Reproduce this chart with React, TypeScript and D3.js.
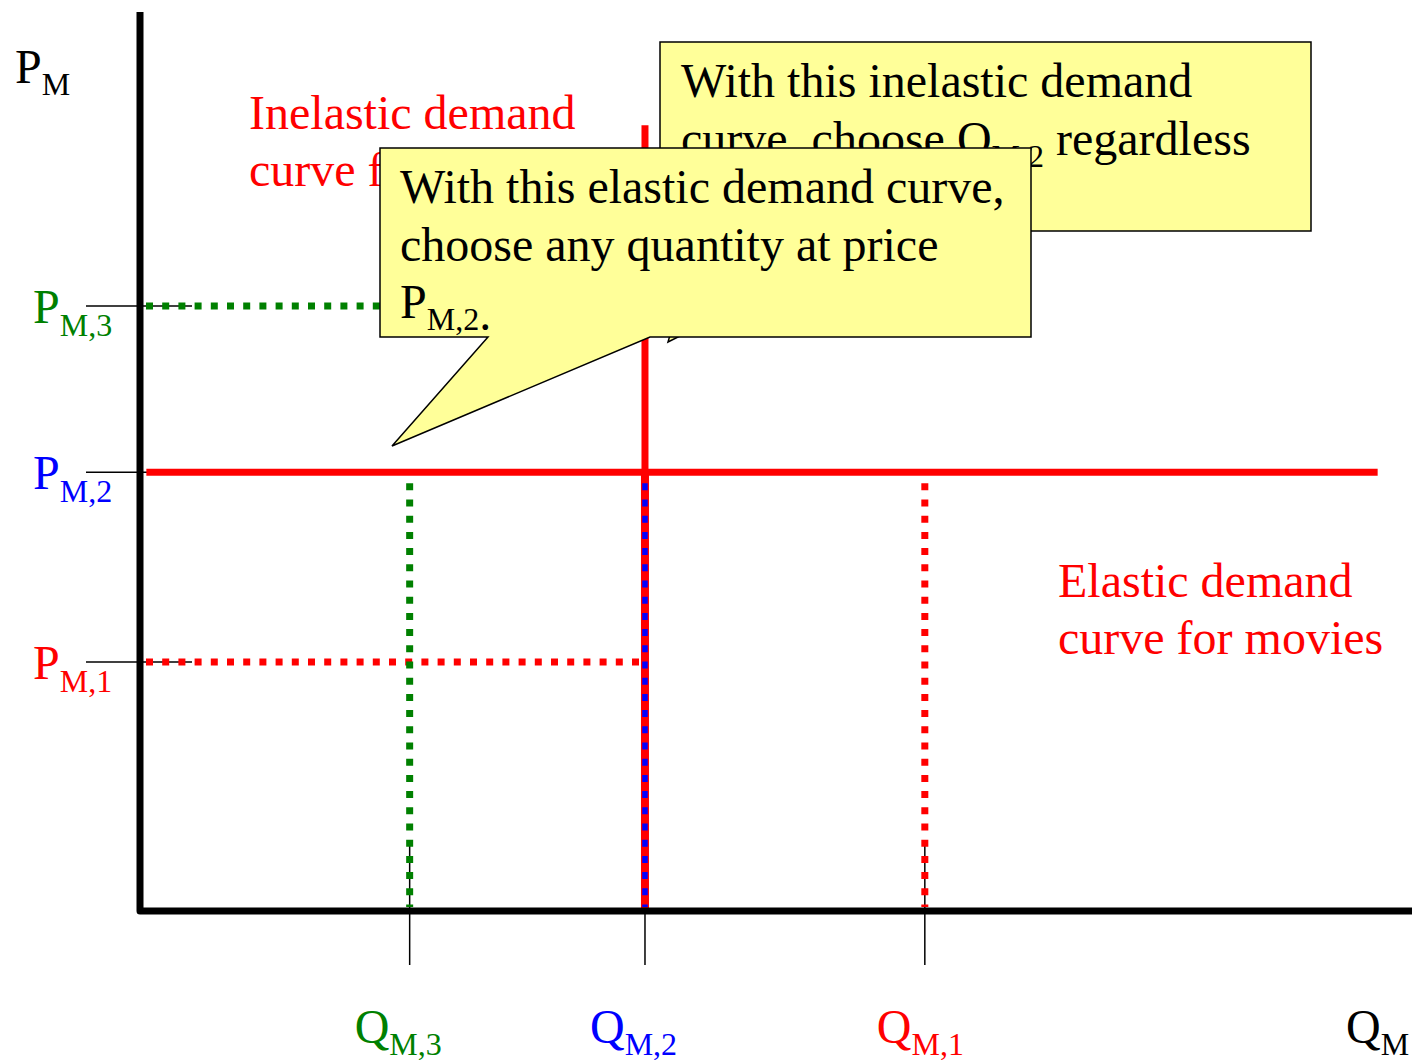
import React from "react";
import * as d3 from "d3";

// ---- data (axis units 0..100) ----
const quantityNames = ["M,3", "M,2", "M,1"];
const quantityValues = [21.2, 39.7, 61.7];
const priceNames = ["M,3", "M,2", "M,1"];
const priceValues = [67.3, 48.8, 27.7];
const elasticDemand: [number, number][] = [
  [0.5, 48.8],
  [97.3, 48.8],
];
const inelasticDemand: [number, number][] = [
  [39.7, 48.8],
  [39.7, 87.4],
];
const axisNames = ["P", "M", "Q", "M"];
const inelasticLabel = ["Inelastic demand", "curve for movies"];
const elasticLabel = ["Elastic demand", "curve for movies"];
const backCallout = ["With this inelastic demand", "curve, choose Q", "M,2", " regardless", "of price."];
const frontCallout = ["With this elastic demand curve,", "choose any quantity at price", "P", "M,2", "."];

// ---- styles ----
const levelColors = ["#008000", "#0000ff", "#ff0000"];
const qLabelShift = [-55, -55, -48];
const RED = "#ff0000";
const BLUE = "#0000ff";
const GREEN = "#008000";
const YELLOW = "#ffff99";
const FONT = "'Liberation Serif', 'Times New Roman', serif";
const W = 1412;
const H = 1060;

export default function App() {
  const x = d3.scaleLinear().domain([0, 100]).range([140, 1412]);
  const y = d3.scaleLinear().domain([0, 100]).range([911, 12]);
  const line = d3
    .line<[number, number]>()
    .x((d) => x(d[0]))
    .y((d) => y(d[1]));

  const [q3, q2, q1] = quantityValues;
  const [p3, p2, p1] = priceValues;
  const dash = "7 9.2";

  const sub = (t: string, dy: number) => (
    <tspan fontSize={32} dy={dy}>
      {t}
    </tspan>
  );

  return (
    <svg
      width={W}
      height={H}
      style={{ position: "absolute", left: 0, top: 0, background: "#fff" }}
      fontFamily={FONT}
    >
      {/* ticks */}
      {priceValues.map((p, i) => (
        <line key={"pt" + i} x1={86} x2={192} y1={y(p)} y2={y(p)} stroke="#000" strokeWidth={1.5} />
      ))}
      {quantityValues.map((q, i) => (
        <line key={"qt" + i} x1={x(q)} x2={x(q)} y1={845} y2={965} stroke="#000" strokeWidth={1.5} />
      ))}

      {/* dotted guides */}
      <line x1={x(0) + 6} x2={x(q2)} y1={y(p3)} y2={y(p3)} stroke={GREEN} strokeWidth={7} strokeDasharray={dash} />
      <line x1={x(0) + 6} x2={x(q2) - 5} y1={y(p1)} y2={y(p1)} stroke={RED} strokeWidth={7} strokeDasharray={dash} />
      <line x1={x(q3)} x2={x(q3)} y1={y(p2) + 11} y2={y(0) - 4} stroke={GREEN} strokeWidth={7} strokeDasharray={dash} />
      <line x1={x(q1)} x2={x(q1)} y1={y(p2) + 11} y2={y(0) - 4} stroke={RED} strokeWidth={7} strokeDasharray={dash} />
      <line x1={x(q2)} x2={x(q2)} y1={y(p2)} y2={y(0)} stroke={RED} strokeWidth={8} />
      <line x1={x(q2)} x2={x(q2)} y1={y(p2) + 11} y2={y(0) - 4} stroke={BLUE} strokeWidth={5.5} strokeDasharray={dash} />

      {/* demand curves */}
      <path d={line(elasticDemand) || ""} stroke={RED} strokeWidth={7} fill="none" />
      <path d={line(inelasticDemand) || ""} stroke={RED} strokeWidth={7} fill="none" />

      {/* axes */}
      <path
        d={`M${x(0)},${y(100)} L${x(0)},${y(0)} L${x(100)},${y(0)}`}
        stroke="#000"
        strokeWidth={7}
        fill="none"
        strokeLinejoin="round"
      />

      {/* axis titles */}
      <text x={15} y={83} fontSize={48} fill="#000">
        {axisNames[0]}
        {sub(axisNames[1], 12)}
      </text>
      <text x={1346} y={1043} fontSize={48} fill="#000">
        {axisNames[2]}
        {sub(axisNames[3], 12)}
      </text>

      {/* price labels */}
      {priceValues.map((p, i) => (
        <text key={"pl" + i} x={33} y={y(p) + 17} fontSize={48} fill={levelColors[i]}>
          P{sub(priceNames[i], 13)}
        </text>
      ))}
      {/* quantity labels */}
      {quantityValues.map((q, i) => (
        <text key={"ql" + i} x={x(q) + qLabelShift[i]} y={1043} fontSize={48} fill={levelColors[i]}>
          Q{sub(quantityNames[i], 12)}
        </text>
      ))}

      {/* curve labels */}
      <text x={249} y={129} fontSize={48} fill={RED}>
        <tspan x={249}>{inelasticLabel[0]}</tspan>
        <tspan x={249} y={186}>
          {inelasticLabel[1]}
        </tspan>
      </text>
      <text x={1058} y={597} fontSize={48} fill={RED}>
        <tspan x={1058}>{elasticLabel[0]}</tspan>
        <tspan x={1058} y={654}>
          {elasticLabel[1]}
        </tspan>
      </text>

      {/* back callout */}
      <path
        d="M660,42 L1311,42 L1311,231 L890,231 L668,342 L700,231 L660,231 Z"
        fill={YELLOW}
        stroke="#000"
        strokeWidth={1.5}
      />
      <text fontSize={48} fill="#000">
        <tspan x={681} y={97}>
          {backCallout[0]}
        </tspan>
        <tspan x={681} y={155}>
          {backCallout[1]}
        </tspan>
        {sub(backCallout[2], 12)}
        <tspan dy={-12}>{backCallout[3]}</tspan>
        <tspan x={681} y={213}>
          {backCallout[4]}
        </tspan>
      </text>

      {/* front callout */}
      <path
        d="M380,148 L1031,148 L1031,337 L650,337 L392,446 L488,337 L380,337 Z"
        fill={YELLOW}
        stroke="#000"
        strokeWidth={1.5}
      />
      <text fontSize={48} fill="#000">
        <tspan x={400} y={203}>
          {frontCallout[0]}
        </tspan>
        <tspan x={400} y={261}>
          {frontCallout[1]}
        </tspan>
        <tspan x={400} y={318}>
          {frontCallout[2]}
        </tspan>
        {sub(frontCallout[3], 12)}
        <tspan>{frontCallout[4]}</tspan>
      </text>
    </svg>
  );
}
